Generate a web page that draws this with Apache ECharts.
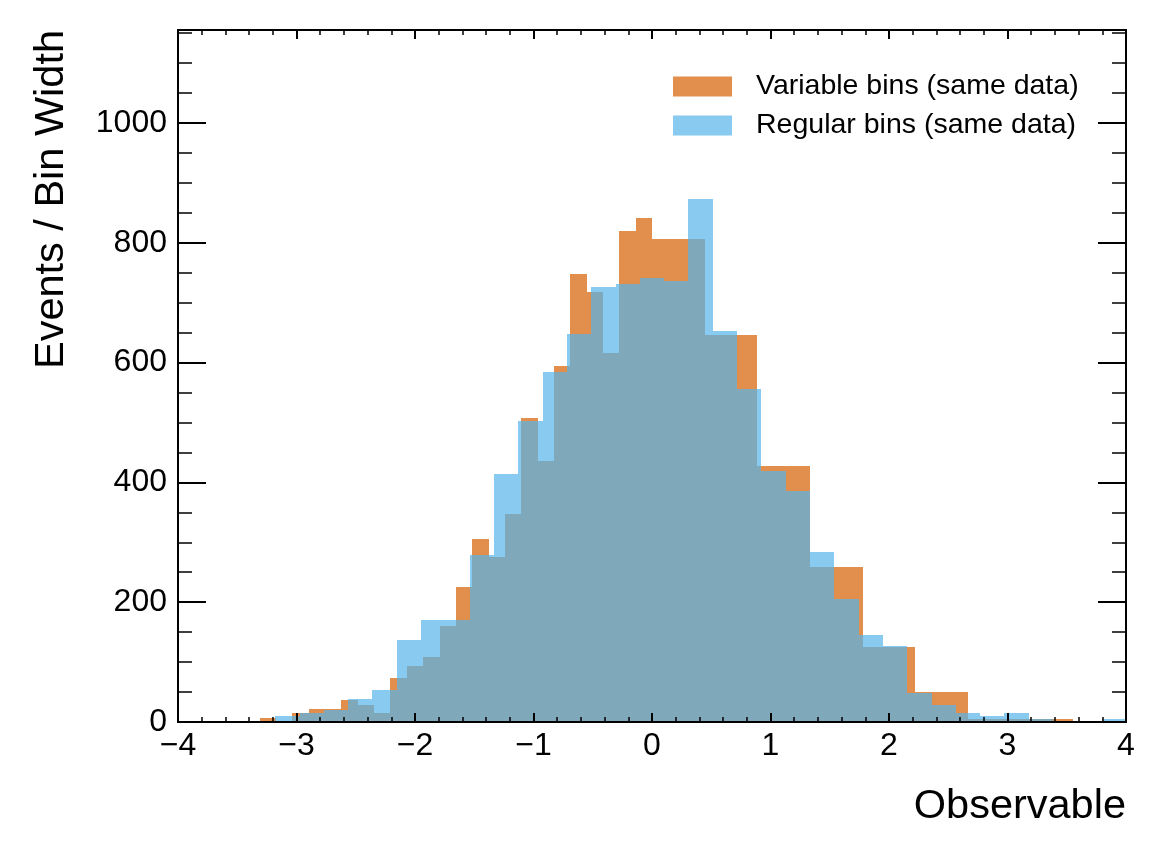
<!DOCTYPE html>
<html>
<head>
<meta charset="utf-8">
<script src="https://cdn.jsdelivr.net/npm/echarts@6/dist/echarts.min.js"></script>
<style>
html,body{margin:0;padding:0;background:#fff}
#main{width:1166px;height:858px}
</style>
</head>
<body>
<div id="main"></div>
<script>
// bin edges and densities (events / bin width)
var regularEdges=[-4.000,-3.795,-3.590,-3.385,-3.179,-2.974,-2.769,-2.564,-2.359,-2.154,-1.949,-1.744,-1.538,-1.333,-1.128,-0.923,-0.718,-0.513,-0.308,-0.103,0.103,0.308,0.513,0.718,0.923,1.128,1.333,1.538,1.744,1.949,2.154,2.359,2.564,2.769,2.974,3.179,3.385,3.590,3.795,4.000];
var regularValues=[0,0,0,0,10,15,20,39,54,137,171,171,278,414,502,585,648,726,731,741,736,873,653,556,419,385,283,205,146,127,49,29,15,10,15,5,0,0,5];

var variableEdges=[-4.000,-3.862,-3.724,-3.586,-3.448,-3.310,-3.172,-3.034,-2.897,-2.759,-2.621,-2.483,-2.345,-2.207,-2.069,-1.931,-1.793,-1.655,-1.517,-1.379,-1.241,-1.103,-0.966,-0.828,-0.690,-0.552,-0.414,-0.276,-0.138,0.000,0.444,0.889,1.333,1.778,2.222,2.667,3.111,3.556,4.000];
var variableValues=[0,0,0,0,0,7,0,15,22,22,36,29,15,73,94,109,160,225,305,276,348,508,435,595,747,718,616,819,841,806,646,427,259,126,50,5,5,0];

var xTicks=[-4,4,1];
var yMax=1155;

var FONT='"Liberation Sans", Arial, sans-serif';

function toBins(edges,values){
    var out=[];
    for(var i=0;i<values.length;i++){
        out.push([edges[i],edges[i+1],values[i]]);
    }
    return out;
}

function renderBin(params,api){
    var top=api.coord([api.value(0),api.value(2)]);
    var bot=api.coord([api.value(1),0]);
    var x0=Math.round(top[0]),x1=Math.round(bot[0]);
    var y0=Math.round(top[1]),y1=Math.round(bot[1]);
    return {
        type:'rect',
        shape:{x:x0,y:y0,width:x1-x0,height:y1-y0},
        style:{fill:api.visual('color')}
    };
}

function minus(v){
    return String(v).replace('-','\u2212');
}

function xAxisCfg(pos,labels){
    return {
        type:'value',
        position:pos,
        min:xTicks[0],
        max:xTicks[1],
        interval:xTicks[2],
        z:10,
        axisLine:{show:true,onZero:false,lineStyle:{color:'#000',width:2}},
        axisTick:{show:true,inside:true,length:9,lineStyle:{color:'#000',width:2}},
        minorTick:{show:true,splitNumber:5,length:5,lineStyle:{color:'#000',width:1.5}},
        splitLine:{show:false},
        minorSplitLine:{show:false},
        axisLabel:{
            show:labels,
            margin:8,
            fontSize:32,
            fontFamily:FONT,
            color:'#000',
            formatter:minus
        }
    };
}

function yAxisCfg(pos,step,len,labels,line){
    return {
        type:'value',
        position:pos,
        min:0,
        max:yMax,
        interval:step,
        z:10,
        axisLine:{show:line,onZero:false,lineStyle:{color:'#000',width:2}},
        axisTick:{show:true,inside:true,length:len,lineStyle:{color:'#000',width:line?2:1.5}},
        splitLine:{show:false},
        axisLabel:{
            show:labels,
            margin:11,
            fontSize:32,
            fontFamily:FONT,
            color:'#000',
            showMaxLabel:false,
            formatter:function(v){return String(v);}
        }
    };
}

var myChart=echarts.init(document.getElementById('main'));
var option={
    animation:false,
    grid:{left:178,right:40,top:30,bottom:136,containLabel:false},
    legend:{
        orient:'vertical',
        left:673,
        top:72,
        padding:0,
        itemWidth:59,
        itemHeight:20,
        itemGap:10,
        selectedMode:false,
        textStyle:{fontSize:28.5,fontFamily:FONT,color:'#000',padding:[0,0,0,19]},
        data:[
            {name:'Variable bins (same data)',icon:'rect'},
            {name:'Regular bins (same data)',icon:'rect'}
        ]
    },
    xAxis:[xAxisCfg('bottom',true),xAxisCfg('top',false)],
    yAxis:[
        yAxisCfg('left',200,28,true,true),
        yAxisCfg('left',50,14,false,false),
        yAxisCfg('right',200,28,false,true),
        yAxisCfg('right',50,14,false,false)
    ],
    graphic:[
        {
            type:'text',
            x:1126,y:807,
            style:{text:'Observable',font:'41.5px '+FONT,fill:'#000',align:'right',verticalAlign:'middle',textAlign:'right',textVerticalAlign:'middle'}
        },
        {
            type:'text',
            x:52,y:30,
            rotation:Math.PI/2,
            style:{text:'Events / Bin Width',font:'41.5px '+FONT,fill:'#000',align:'right',verticalAlign:'middle',textAlign:'right',textVerticalAlign:'middle'}
        }
    ],
    series:[{
        name:'Variable bins (same data)',
        type:'custom',
        renderItem:renderBin,
        data:toBins(variableEdges,variableValues),
        encode:{x:[0,1],y:2},
        itemStyle:{color:'rgba(213,94,0,0.7)'},
        silent:true
    },{
        name:'Regular bins (same data)',
        type:'custom',
        renderItem:renderBin,
        data:toBins(regularEdges,regularValues),
        encode:{x:[0,1],y:2},
        itemStyle:{color:'rgba(86,180,233,0.7)'},
        silent:true
    }]
};
myChart.setOption(option);
</script>
</body>
</html>
